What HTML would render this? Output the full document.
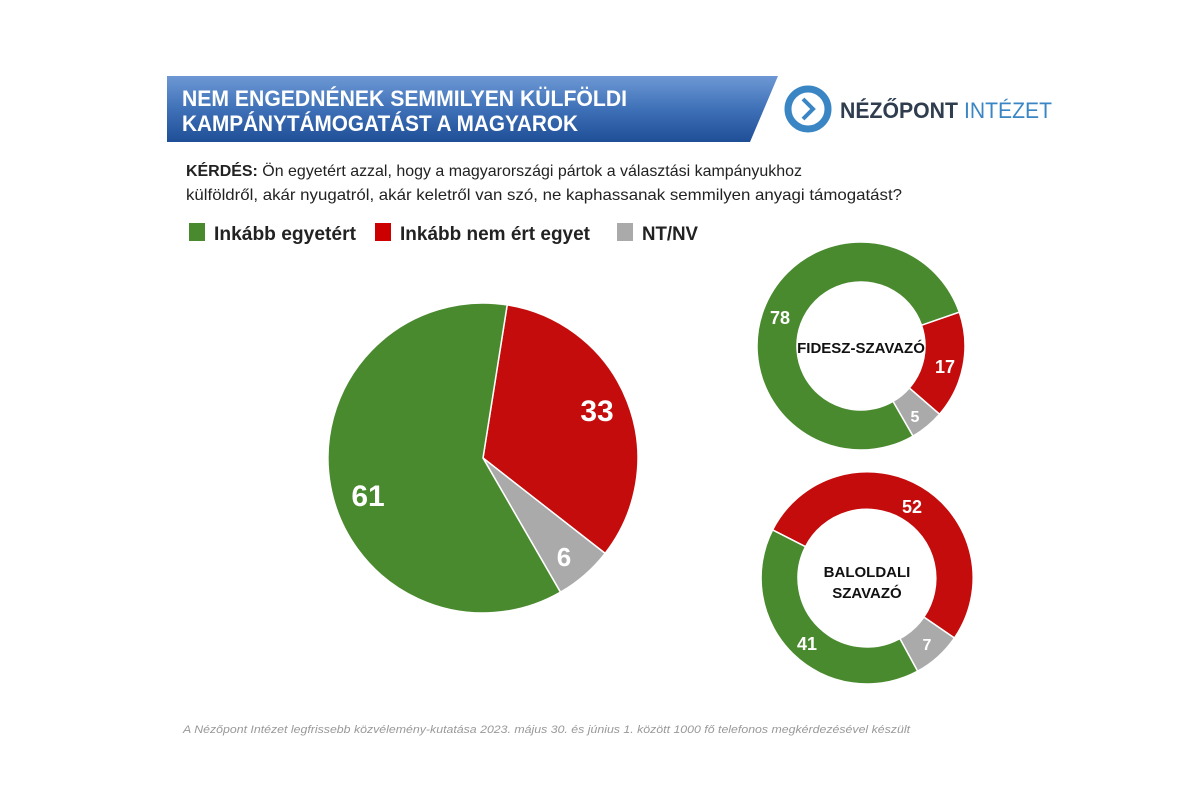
<!DOCTYPE html>
<html><head><meta charset="utf-8"><style>
html,body{margin:0;padding:0;background:#fff;}
svg{display:block;font-family:"Liberation Sans",sans-serif;}
</style></head><body>
<svg width="1200" height="795" viewBox="0 0 1200 795" xmlns="http://www.w3.org/2000/svg">
<defs>
<linearGradient id="g" x1="0" y1="0" x2="0" y2="1">
<stop offset="0" stop-color="#6d98d4"/><stop offset="0.5" stop-color="#3f71b8"/><stop offset="1" stop-color="#1f4f96"/>
</linearGradient>
</defs>
<polygon points="167,76 778,76 750,142 167,142" fill="url(#g)"/>
<text x="182" y="106" fill="#fff" font-size="22" font-weight="bold" textLength="445" lengthAdjust="spacingAndGlyphs">NEM ENGEDNÉNEK SEMMILYEN KÜLFÖLDI</text>
<text x="182" y="131" fill="#fff" font-size="22" font-weight="bold" textLength="396" lengthAdjust="spacingAndGlyphs">KAMPÁNYTÁMOGATÁST A MAGYAROK</text>
<circle cx="808" cy="109" r="20" fill="none" stroke="#3a86c4" stroke-width="7"/>
<polyline points="803,99 813,109 803,119" fill="none" stroke="#3a86c4" stroke-width="4"/>
<text x="840" y="118" fill="#2f3d4f" font-size="22" font-weight="bold" textLength="118" lengthAdjust="spacingAndGlyphs">NÉZŐPONT</text>
<text x="964" y="118" fill="#3a86c4" font-size="22" textLength="88" lengthAdjust="spacingAndGlyphs">INTÉZET</text>
<text x="186" y="176" fill="#222" font-size="16" textLength="616" lengthAdjust="spacingAndGlyphs"><tspan font-weight="bold">KÉRDÉS:</tspan>   Ön egyetért azzal, hogy a magyarországi pártok a választási kampányukhoz</text>
<text x="186" y="200" fill="#222" font-size="16" textLength="716" lengthAdjust="spacingAndGlyphs">külföldről, akár nyugatról, akár keletről van szó, ne kaphassanak semmilyen anyagi támogatást?</text>
<rect x="189" y="223" width="16" height="18" fill="#4a8a2f"/>
<text x="214" y="240" fill="#222" font-size="19" font-weight="bold" textLength="142" lengthAdjust="spacingAndGlyphs">Inkább egyetért</text>
<rect x="375" y="223" width="16" height="18" fill="#c00"/>
<text x="400" y="240" fill="#222" font-size="19" font-weight="bold" textLength="190" lengthAdjust="spacingAndGlyphs">Inkább nem ért egyet</text>
<rect x="617" y="223" width="16" height="18" fill="#aaa"/>
<text x="642" y="240" fill="#222" font-size="19" font-weight="bold" textLength="56" lengthAdjust="spacingAndGlyphs">NT/NV</text>
<g stroke="#fff" stroke-width="1.5">
<path d="M483,458 L507.2,304.9 A155,155 0 0 1 605.1,553.4 Z" fill="#c40c0c"/>
<path d="M483,458 L605.1,553.4 A155,155 0 0 1 560.5,592.2 Z" fill="#aaa"/>
<path d="M483,458 L560.5,592.2 A155,155 0 1 1 507.2,304.9 Z" fill="#4a8a2f"/>
<path d="M959.3,312.1 A104,104 0 0 1 939.5,414.2 L909.3,388.0 A64,64 0 0 0 921.5,325.2 Z" fill="#c40c0c"/>
<path d="M939.5,414.2 A104,104 0 0 1 913.0,436.1 L893.0,401.4 A64,64 0 0 0 909.3,388.0 Z" fill="#aaa"/>
<path d="M913.0,436.1 A104,104 0 1 1 959.3,312.1 L921.5,325.2 A64,64 0 1 0 893.0,401.4 Z" fill="#4a8a2f"/>
<path d="M772.6,529.9 A106,106 0 1 1 954.4,638.0 L923.9,617.1 A69,69 0 1 0 805.5,546.7 Z" fill="#c40c0c"/>
<path d="M954.4,638.0 A106,106 0 0 1 917.6,671.2 L899.9,638.6 A69,69 0 0 0 923.9,617.1 Z" fill="#aaa"/>
<path d="M917.6,671.2 A106,106 0 0 1 772.6,529.9 L805.5,546.7 A69,69 0 0 0 899.9,638.6 Z" fill="#4a8a2f"/>
</g>
<g font-weight="bold" fill="#fff" text-anchor="middle">
<text x="597" y="421" font-size="30">33</text>
<text x="368" y="506" font-size="30">61</text>
<text x="564" y="566" font-size="26">6</text>
<text x="780" y="324" font-size="18">78</text>
<text x="945" y="373" font-size="18">17</text>
<text x="915" y="422" font-size="16">5</text>
<text x="912" y="513" font-size="18">52</text>
<text x="807" y="650" font-size="18">41</text>
<text x="927" y="650" font-size="16">7</text>
</g>
<g font-weight="bold" fill="#111" text-anchor="middle" font-size="15">
<text x="861" y="353">FIDESZ-SZAVAZÓ</text>
<text x="867" y="577">BALOLDALI</text>
<text x="867" y="598">SZAVAZÓ</text>
</g>
<text x="183" y="733" fill="#999" font-size="11" font-style="italic" textLength="727" lengthAdjust="spacingAndGlyphs">A Nézőpont Intézet legfrissebb közvélemény-kutatása  2023. május 30. és június 1. között  1000 fő telefonos  megkérdezésével  készült</text>
</svg>
</body></html>
